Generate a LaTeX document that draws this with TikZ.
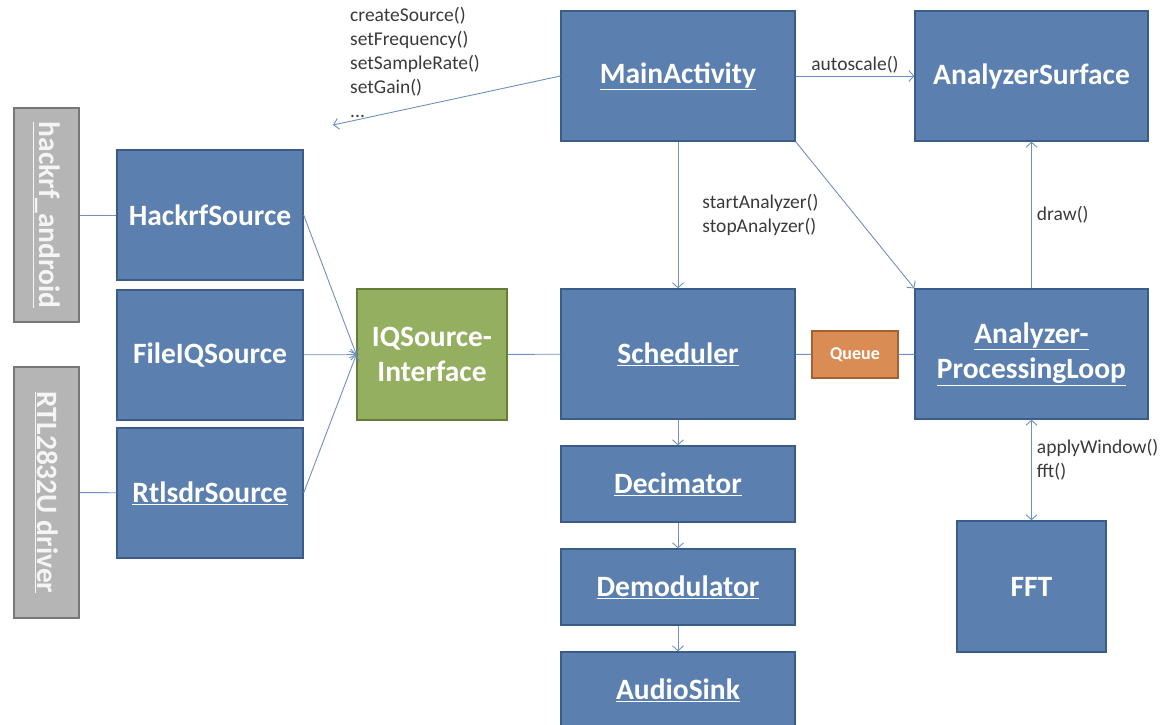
\documentclass[tikz,border=0pt]{standalone}
\usepackage{fontspec}
\setmainfont{Carlito}
\usetikzlibrary{arrows.meta}
\definecolor{boxblue}{HTML}{5B7FAE}
\definecolor{boxedge}{HTML}{3A5C88}
\definecolor{libgrey}{HTML}{B5B5B5}
\definecolor{libedge}{HTML}{777777}
\definecolor{iface}{HTML}{94AF5F}
\definecolor{ifaceedge}{HTML}{667D36}
\definecolor{qorange}{HTML}{DA8C55}
\definecolor{qedge}{HTML}{A4622F}
\definecolor{wire}{HTML}{6F91BF}
\definecolor{note}{HTML}{3A3A3A}

\begin{document}
\begin{tikzpicture}[x=1pt, y=-1pt, font=\bfseries\fontsize{29.5}{35}\selectfont,
    blk/.style={draw=boxedge, fill=boxblue, text=white, line width=1.3pt, align=center, inner sep=0pt},
    lib/.style={draw=libedge, fill=libgrey, text=white!96!black, line width=1.3pt, inner sep=0pt, rotate=-90},
    wire/.style={draw=wire, line width=0.9pt},
    call/.style={wire, -{Straight Barb[length=5pt, width=11pt]}},
    note/.style={font=\mdseries\fontsize{19.5}{24}\selectfont, text=note, align=left, inner sep=2pt}]
  \useasboundingbox (0,0) rectangle (1165,724);
  % drivers
  \node[lib, minimum width=214pt, minimum height=65pt] (hka) at (46.5,215) {\underline{hackrf\_android}};
  \node[lib, minimum width=251pt, minimum height=65pt] (rtl) at (46.5,492.5) {\underline{RTL2832U driver}};
  % sources
  \node[blk, minimum width=186pt, minimum height=130pt] (hks) at (210,215) {HackrfSource};
  \node[blk, minimum width=186pt, minimum height=130pt] (fis) at (210,355) {FileIQSource};
  \node[blk, minimum width=186pt, minimum height=130pt] (rts) at (210,493) {\underline{RtlsdrSource}};
  \node[blk, fill=iface, draw=ifaceedge, minimum width=150pt, minimum height=131pt] (iq) at (432,354.5) {IQSource-\\Interface};
  % middle column
  \node[blk, minimum width=234pt, minimum height=130pt] (ma) at (678,76) {\underline{MainActivity}};
  \node[blk, minimum width=234pt, minimum height=130pt] (sch) at (678,354) {\underline{Scheduler}};
  \node[blk, minimum width=234pt, minimum height=76pt] (dec) at (678,484) {\underline{Decimator}};
  \node[blk, minimum width=234pt, minimum height=76pt] (dem) at (678,587) {\underline{Demodulator}};
  \node[blk, minimum width=234pt, minimum height=76pt] (snk) at (678,690) {\underline{AudioSink}};
  % right column
  \node[blk, minimum width=233pt, minimum height=130pt] (as) at (1031.5,76) {AnalyzerSurface};
  \node[blk, minimum width=233pt, minimum height=130pt] (apl) at (1031.5,354) {\underline{Analyzer-}\\\underline{ProcessingLoop}};
  \node[blk, fill=qorange, draw=qedge, font=\bfseries\fontsize{18}{20}\selectfont, minimum width=86pt, minimum height=47pt] (q) at (855,354.5) {Queue};
  \node[blk, minimum width=149pt, minimum height=131pt] (fft) at (1031.5,586.5) {FFT};
  \coordinate (src) at (333,125);
  % connectors
  \draw[wire] (hka) -- (hks); \draw[wire] (rtl) -- (rts);
  \draw[call] (hks.east) -- (iq.west); \draw[call] (fis) -- (iq); \draw[call] (rts.east) -- (iq.west);
  \draw[wire] (iq) -- (sch);
  \draw[call] (ma.west) -- (src);
  \node[note, anchor=north west] (setters) at (348,5) {createSource()\\setFrequency()\\setSampleRate()\\setGain()\\...};
  \draw[call] (ma) -- node[note, above] {autoscale()} (as);
  \draw[call] (ma) -- node[note, right=22pt] {startAnalyzer()\\stopAnalyzer()} (sch);
  \draw[call] (ma.south east) -- (apl.north west);
  \draw[call] (apl) -- node[note, right=3pt] {draw()} (as);
  \draw[wire] (sch) -- (q) -- (apl);
  \draw[wire, {Straight Barb[length=5pt, width=11pt]}-{Straight Barb[length=5pt, width=11pt]}] (apl) -- node[note, pos=0.4, right=3pt] {applyWindow()\\fft()} (fft);
  \draw[call] (sch) -- (dec); \draw[call] (dec) -- (dem); \draw[call] (dem) -- (snk);
\end{tikzpicture}
\end{document}
